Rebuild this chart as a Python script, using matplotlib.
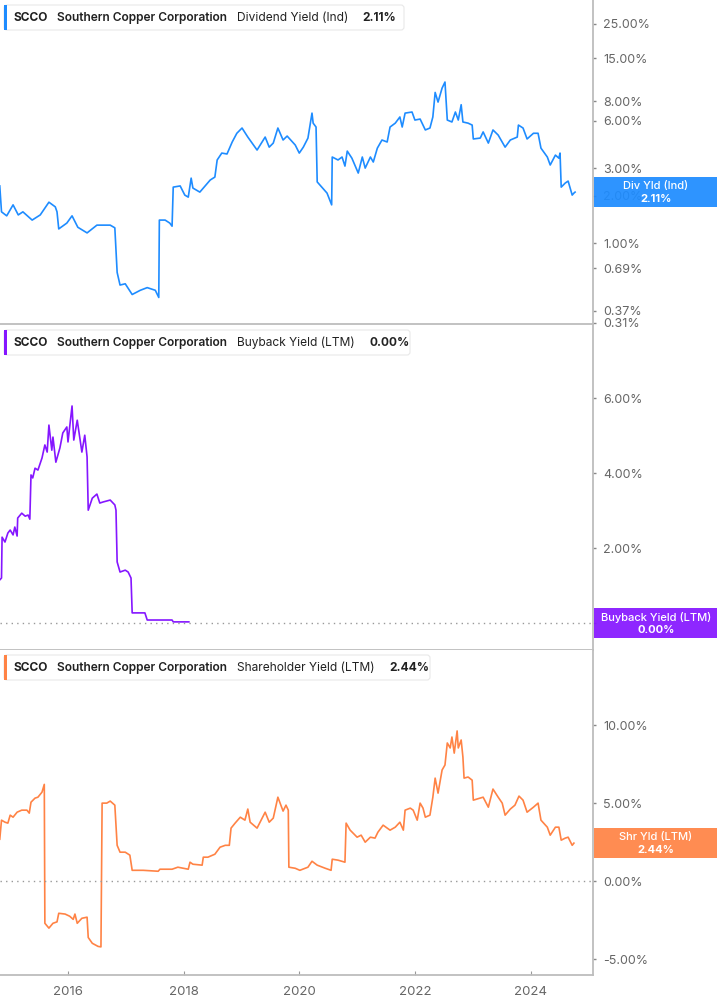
import numpy as np
import matplotlib
matplotlib.use("Agg")
import matplotlib.pyplot as plt
from matplotlib.patches import Rectangle, FancyBboxPatch
from matplotlib.ticker import NullLocator
from matplotlib.transforms import IdentityTransform

# ---- data (decimal years, percent) ----
div_years = [2014.82, 2014.85, 2014.94, 2015.05, 2015.14, 2015.22, 2015.38, 2015.52, 2015.67, 2015.78,
             2015.81, 2015.84, 2015.98, 2016.07, 2016.17, 2016.33, 2016.50, 2016.73, 2016.81, 2016.85,
             2016.90, 2016.99, 2017.11, 2017.25, 2017.37, 2017.51, 2017.57, 2017.58, 2017.68, 2017.76,
             2017.80, 2017.82, 2017.94, 2018.02, 2018.08, 2018.13, 2018.16, 2018.28, 2018.46, 2018.54,
             2018.58, 2018.66, 2018.75, 2018.84, 2018.92, 2019.01, 2019.11, 2019.27, 2019.41, 2019.48,
             2019.55, 2019.63, 2019.72, 2019.79, 2019.93, 2020.00, 2020.07, 2020.15, 2020.22, 2020.24,
             2020.29, 2020.31, 2020.39, 2020.48, 2020.56, 2020.57, 2020.67, 2020.74, 2020.79, 2020.83,
             2020.91, 2021.02, 2021.09, 2021.14, 2021.23, 2021.28, 2021.35, 2021.43, 2021.52, 2021.57,
             2021.66, 2021.74, 2021.78, 2021.83, 2021.95, 2022.00, 2022.09, 2022.18, 2022.26, 2022.31,
             2022.35, 2022.40, 2022.47, 2022.52, 2022.56, 2022.64, 2022.70, 2022.75, 2022.80, 2022.83,
             2022.92, 2022.99, 2023.01, 2023.13, 2023.18, 2023.27, 2023.35, 2023.44, 2023.56, 2023.65,
             2023.77, 2023.79, 2023.87, 2023.94, 2024.05, 2024.13, 2024.18, 2024.29, 2024.34, 2024.43,
             2024.49, 2024.51, 2024.53, 2024.60, 2024.65, 2024.72, 2024.75, 2024.77]
div_yield = [2.31, 1.58, 1.49, 1.75, 1.51, 1.58, 1.40, 1.51, 1.82, 1.70,
             1.58, 1.23, 1.34, 1.49, 1.26, 1.16, 1.30, 1.30, 1.25, 0.65,
             0.54, 0.55, 0.47, 0.50, 0.52, 0.50, 0.45, 1.40, 1.40, 1.34,
             1.28, 2.27, 2.31, 2.02, 1.96, 2.59, 2.24, 2.11, 2.52, 2.63,
             3.38, 3.74, 3.69, 4.40, 5.00, 5.40, 4.73, 3.91, 4.73, 4.08,
             4.33, 5.40, 4.53, 4.80, 4.21, 3.74, 4.08, 4.66, 6.72, 5.80,
             5.48, 2.45, 2.27, 2.08, 1.75, 3.53, 3.38, 3.53, 3.09, 3.85,
             3.47, 2.79, 3.53, 3.00, 3.53, 3.28, 4.02, 4.53, 4.40, 5.48,
             5.80, 6.35, 5.48, 6.72, 6.83, 6.07, 6.16, 5.25, 5.40, 6.35,
             9.10, 7.90, 9.70, 10.6, 6.07, 5.90, 6.83, 6.07, 7.60, 5.90,
             5.80, 5.64, 4.60, 4.66, 5.10, 4.33, 5.25, 4.87, 4.08, 4.53,
             4.73, 5.64, 5.40, 4.60, 5.00, 5.00, 4.02, 3.53, 3.14, 3.63,
             3.47, 3.74, 2.27, 2.41, 2.48, 2.02, 2.08, 2.11]

bb_years = [2014.82, 2014.85, 2014.86, 2014.91, 2014.96, 2015.00, 2015.05, 2015.08, 2015.12, 2015.13,
            2015.20, 2015.26, 2015.31, 2015.34, 2015.36, 2015.39, 2015.43, 2015.48, 2015.55, 2015.60,
            2015.64, 2015.67, 2015.72, 2015.74, 2015.79, 2015.86, 2015.91, 2015.98, 2016.00, 2016.07,
            2016.10, 2016.16, 2016.21, 2016.24, 2016.29, 2016.33, 2016.35, 2016.42, 2016.50, 2016.55,
            2016.61, 2016.73, 2016.81, 2016.83, 2016.85, 2016.90, 2016.99, 2017.04, 2017.09, 2017.11,
            2017.33, 2017.37, 2017.80, 2017.82, 2018.09]
bb_yield = [1.15, 1.20, 2.29, 2.16, 2.40, 2.48, 2.35, 2.56, 2.32, 2.80,
            2.93, 2.85, 2.88, 2.77, 3.95, 3.87, 4.13, 4.08, 4.40, 4.75,
            4.56, 5.28, 4.61, 4.96, 4.29, 4.67, 5.07, 5.23, 4.83, 5.79,
            4.88, 5.41, 4.88, 4.56, 5.01, 4.43, 3.01, 3.33, 3.44, 3.20,
            3.23, 3.28, 3.15, 3.01, 1.63, 1.36, 1.41, 1.36, 1.20, 0.27,
            0.27, 0.08, 0.08, 0.03, 0.03]

shr_years = [2014.82, 2014.85, 2014.91, 2014.96, 2015.00, 2015.05, 2015.12, 2015.20, 2015.29, 2015.33,
             2015.36, 2015.43, 2015.48, 2015.55, 2015.59, 2015.60, 2015.67, 2015.74, 2015.81, 2015.84,
             2015.95, 2016.03, 2016.09, 2016.12, 2016.16, 2016.24, 2016.33, 2016.35, 2016.42, 2016.52,
             2016.57, 2016.59, 2016.67, 2016.73, 2016.81, 2016.85, 2016.90, 2016.99, 2017.07, 2017.11,
             2017.30, 2017.56, 2017.59, 2017.80, 2017.90, 2018.08, 2018.11, 2018.16, 2018.32, 2018.34,
             2018.42, 2018.54, 2018.63, 2018.72, 2018.79, 2018.82, 2018.89, 2018.98, 2019.06, 2019.11,
             2019.15, 2019.27, 2019.41, 2019.48, 2019.55, 2019.63, 2019.72, 2019.77, 2019.81, 2019.82,
             2019.93, 2020.01, 2020.15, 2020.22, 2020.31, 2020.45, 2020.55, 2020.57, 2020.67, 2020.79,
             2020.81, 2020.88, 2021.00, 2021.07, 2021.14, 2021.23, 2021.31, 2021.36, 2021.45, 2021.57,
             2021.66, 2021.74, 2021.80, 2021.83, 2021.92, 2021.97, 2022.04, 2022.09, 2022.14, 2022.18,
             2022.26, 2022.31, 2022.35, 2022.40, 2022.47, 2022.52, 2022.56, 2022.61, 2022.64, 2022.68,
             2022.73, 2022.75, 2022.80, 2022.83, 2022.85, 2022.92, 2022.99, 2023.01, 2023.13, 2023.18,
             2023.27, 2023.35, 2023.44, 2023.51, 2023.56, 2023.65, 2023.73, 2023.80, 2023.87, 2023.94,
             2024.05, 2024.13, 2024.18, 2024.29, 2024.34, 2024.43, 2024.49, 2024.53, 2024.60, 2024.65,
             2024.72, 2024.75]
shr_yield = [2.69, 3.91, 3.78, 3.72, 4.23, 4.10, 4.42, 4.55, 4.55, 4.36,
             5.06, 5.32, 5.38, 5.70, 6.20, -2.69, -3.00, -2.69, -2.60, -2.05,
             -2.10, -2.24, -2.44, -2.10, -2.69, -2.37, -2.30, -3.60, -3.97, -4.17,
             -4.20, 5.00, 5.00, 5.13, 4.87, 2.30, 1.86, 1.86, 1.67, 0.70,
             0.70, 0.64, 0.77, 0.77, 0.90, 0.77, 1.22, 1.09, 1.03, 1.54,
             1.54, 1.73, 2.18, 2.30, 2.30, 3.40, 3.72, 4.10, 3.91, 4.62,
             3.78, 3.40, 4.42, 3.78, 4.04, 5.38, 4.49, 4.87, 4.55, 0.90,
             0.83, 0.70, 0.90, 1.28, 1.03, 0.83, 0.70, 1.41, 1.35, 1.22,
             3.72, 3.27, 2.82, 2.95, 2.50, 2.82, 2.76, 3.14, 3.59, 3.27,
             3.46, 3.78, 3.27, 4.55, 4.68, 4.55, 3.91, 5.00, 4.68, 4.10,
             4.23, 5.38, 6.60, 5.64, 7.12, 7.44, 8.85, 8.53, 9.23, 8.20,
             9.62, 8.53, 9.04, 7.95, 6.60, 6.67, 6.47, 5.19, 5.32, 5.38,
             4.74, 5.90, 5.38, 5.00, 4.23, 4.62, 4.87, 5.45, 5.19, 4.42,
             4.74, 5.00, 3.91, 3.46, 2.95, 3.46, 3.46, 2.63, 2.76, 2.82,
             2.30, 2.44]

div_ticks = [0.31, 0.37, 0.69, 1, 2, 3, 6, 8, 15, 25]
bb_ticks = [0, 2, 4, 6]
shr_ticks = [-5, 0, 5, 10]
year_ticks = [2016, 2018, 2020, 2022, 2024]

BLUE = "#1e8cff"
PURPLE = "#8516ff"
ORANGE = "#ff8345"
SPINE = "#bdbdbd"

W, H = 717, 1005
fig = plt.figure(figsize=(W / 100, H / 100), dpi=100)
plt.rcParams["font.family"] = ["Inter", "DejaVu Sans"]


def make_ax(top, bottom):
    ax = fig.add_axes([0, 1 - bottom / H, 593 / W, (bottom - top) / H])
    for s in ["top", "left"]:
        ax.spines[s].set_visible(False)
    for s in ["right", "bottom"]:
        ax.spines[s].set_color(SPINE)
        ax.spines[s].set_linewidth(1.3)
    ax.yaxis.tick_right()
    ax.tick_params(axis="y", length=2.5, width=1, color="#888", pad=5,
                   labelsize=9, labelcolor="#666")
    ax.set_xlim(2014.824, 2025.08)
    return ax


ax1 = make_ax(0, 324)
ax2 = make_ax(325, 650)
ax3 = make_ax(650, 975)

ax1.plot(div_years, div_yield, color=BLUE, lw=1.2)
ax1.set_yscale("log")
ax1.set_ylim(0.305, 35.3)
ax1.yaxis.set_minor_locator(NullLocator())
ax1.set_yticks(div_ticks)
ax1.set_yticklabels([f"{t:.2f}%" for t in div_ticks])

ax2.plot(bb_years, bb_yield, color=PURPLE, lw=1.2)
ax2.set_ylim(-0.72, 7.95)
ax2.set_yticks(bb_ticks)
# the 0.00% label sits under the side badge
ax2.set_yticklabels(["" if t == 0 else f"{t:.2f}%" for t in bb_ticks])
ax2.axhline(0, color="#999", ls=(0, (1, 3)), lw=1)

ax3.plot(shr_years, shr_yield, color=ORANGE, lw=1.2)
ax3.set_ylim(-6.0, 14.8)
ax3.set_yticks(shr_ticks)
ax3.set_yticklabels([f"{t:.2f}%" for t in shr_ticks])
ax3.axhline(0, color="#999", ls=(0, (1, 3)), lw=1)

for ax in (ax1, ax2):
    ax.tick_params(axis="x", bottom=False, labelbottom=False)
ax3.set_xticks(year_ticks)
ax3.set_xticklabels([str(y) for y in year_ticks])
ax3.tick_params(axis="x", direction="in", length=3, color="#999", pad=8,
                labelsize=9.5, labelcolor="#666")

renderer = fig.canvas.get_renderer()
ident = IdentityTransform()


def legend(y_top, y_bot, right, color, metric, value):
    fig.patches.append(FancyBboxPatch((4, H - y_bot), right - 4, y_bot - y_top,
                                      boxstyle="round,pad=0,rounding_size=3",
                                      transform=ident, fc="white", ec="#e8e8e8", lw=0.8, zorder=5))
    fig.patches.append(Rectangle((4, H - y_bot), 3, y_bot - y_top, transform=ident,
                                 fc=color, ec="none", zorder=6))
    yc = H - (y_top + y_bot) / 2
    x = 13
    parts = [("SCCO", "bold", 10), ("Southern Copper Corporation", "semibold", 10),
             (metric, "normal", 14), (value, "bold", 0)]
    for s, w, gap in parts:
        t = fig.text(x, yc, s, transform=ident, ha="left", va="center", fontsize=8.6,
                     fontweight=w, color="#222", zorder=7)
        bb = t.get_window_extent(renderer)
        x = bb.x1 + gap


def side_label(ax, val, color, line1, line2):
    yd = ax.transData.transform((2020, val))[1]
    fig.patches.append(Rectangle((594, yd - 15), 123, 30, transform=ident, fc=color,
                                 ec="none", alpha=0.93, zorder=5))
    fig.text(656, yd + 6, line1, transform=ident, ha="center", va="center", fontsize=8,
             color="white", fontweight="medium", zorder=7)
    fig.text(656, yd - 6.5, line2, transform=ident, ha="center", va="center", fontsize=8,
             color="white", fontweight="bold", zorder=7)


legend(5, 30, 404, BLUE, "Dividend Yield (Ind)", "2.11%")
legend(330, 355, 410, PURPLE, "Buyback Yield (LTM)", "0.00%")
legend(655, 680, 430, ORANGE, "Shareholder Yield (LTM)", "2.44%")

side_label(ax1, 2.11, BLUE, "Div Yld (Ind)", "2.11%")
side_label(ax2, 0.0, PURPLE, "Buyback Yield (LTM)", "0.00%")
side_label(ax3, 2.44, ORANGE, "Shr Yld (LTM)", "2.44%")

fig.savefig("out.png", dpi=100)
